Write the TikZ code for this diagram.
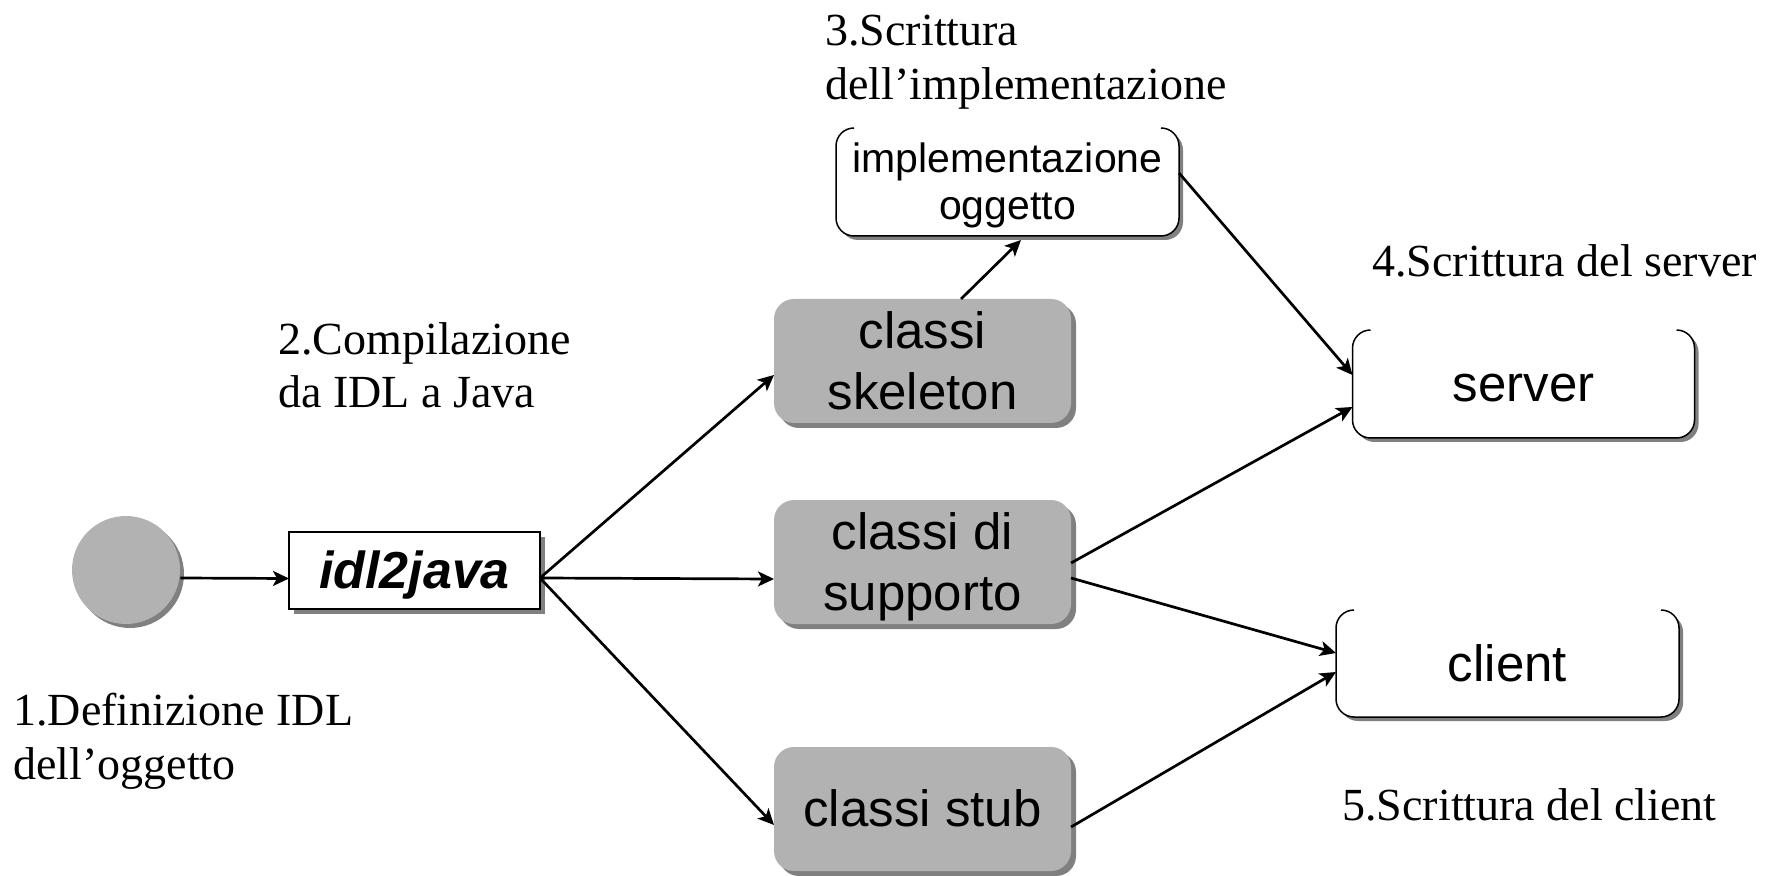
\documentclass[tikz,border=0pt]{standalone}
\usepackage{fontspec}
\setmainfont{Liberation Serif}
\setsansfont{Liberation Sans}
\usetikzlibrary{arrows.meta,shadows,calc}
\definecolor{boxgray}{HTML}{B2B2B2}
\definecolor{shadowgray}{HTML}{808080}
\newcommand\ppstrut{\rule[-0.212em]{0pt}{1.117em}}
\newcommand\opentopframe[1]{%
  \draw[line width=0.75pt] ([xshift=9pt]#1.north west) arc[start angle=90,end angle=180,radius=9pt]
    -- ([yshift=9pt]#1.south west) arc[start angle=180,end angle=270,radius=9pt]
    -- ([xshift=-9pt]#1.south east) arc[start angle=270,end angle=360,radius=9pt]
    -- ([yshift=-9pt]#1.north east) arc[start angle=0,end angle=90,radius=9pt];}
\begin{document}
\begin{tikzpicture}[x=0.5pt,y=-0.5pt,
  lab/.style={inner sep=0pt,anchor=north west,align=left,font=\fontsize{23}{26.7}\selectfont},
  graybox/.style={rectangle,rounded corners=10pt,fill=boxgray,minimum width=148.5pt,minimum height=62pt,
    inner sep=0pt,outer sep=0pt,align=center,font=\sffamily\fontsize{25.5}{30.5}\selectfont,
    drop shadow={shadow xshift=2.5pt,shadow yshift=-2.5pt,fill=shadowgray,opacity=1}},
  whitebox/.style={rectangle,rounded corners=9pt,fill=white,minimum width=171.5pt,minimum height=54pt,
    inner sep=0pt,outer sep=0pt,align=center,font=\sffamily\fontsize{25.5}{30.5}\selectfont,
    drop shadow={shadow xshift=2pt,shadow yshift=-2pt,fill=shadowgray,opacity=1}},
  arr/.style={line width=1.35pt,-{Stealth[length=8pt,width=7.5pt,inset=2pt]}},
]
\useasboundingbox (0,0) rectangle (1781,876);

% start circle and compiler
\node[circle,fill=boxgray,minimum size=54pt,inner sep=0pt,
  drop shadow={shadow xshift=2pt,shadow yshift=-2pt,fill=shadowgray,opacity=1}] (circ) at (126,570) {};
\node[rectangle,draw=black,line width=0.6pt,fill=white,minimum width=125.5pt,minimum height=38.5pt,
  inner sep=0pt,outer sep=0pt,font=\sffamily\bfseries\itshape\fontsize{26}{30}\selectfont,
  drop shadow={shadow xshift=2.5pt,shadow yshift=-2.5pt,fill=shadowgray,opacity=1}] (idl) at (414.5,570.5) {\ppstrut idl2java};

% generated classes
\node[graybox] (skel) at (922.5,361) {\ppstrut classi\\\ppstrut skeleton};
\node[graybox] (supp) at (922.5,562) {\ppstrut classi di\\\ppstrut supporto};
\node[graybox] (stub) at (922.5,809) {\ppstrut classi stub};

% white boxes
\node[whitebox,font=\sffamily\fontsize{20.5}{23.5}\selectfont] (impl) at (1007.5,182) {\ppstrut implementazione\\\ppstrut oggetto};
\node[whitebox,minimum width=171pt] (server) at (1523.5,384) {\ppstrut server};
\node[whitebox,minimum height=53.5pt] (client) at (1507.5,663.5) {\ppstrut client};
\opentopframe{impl}
\opentopframe{server}
\opentopframe{client}

% labels
\node[lab] (l3) at (825,15) {3.Scrittura\\dell’implementazione};
\node[lab] (l4) at (1372,244) {4.Scrittura del server};
\node[lab] (l2) at (278,322) {2.Compilazione\\da IDL a Java};
\node[lab] (l1) at (13,693) {1.Definizione IDL\\dell’oggetto};
\node[lab] (l5) at (1342,788) {5.Scrittura del client};

% connectors
\draw[arr] ([yshift=-4pt]circ.east) -- ([yshift=-4pt]idl.west);
\coordinate (o) at ([yshift=-3.75pt]idl.east);
\draw[arr] (o) -- ([yshift=-7pt]skel.west);
\draw[arr] (o) -- ([yshift=-8.5pt]supp.west);
\draw[arr] (o) -- ([yshift=-8pt]stub.west);
\draw[arr] ([xshift=19.25pt]skel.north) -- ([xshift=6.75pt,yshift=-2pt]impl.south);
\draw[arr] ([yshift=4.5pt]impl.east) -- ([yshift=4.5pt]server.west);
\draw[arr] ([yshift=-0.5pt]supp.east) -- ([yshift=-11.5pt]server.west);
\draw[arr] ([yshift=-8pt]supp.east) -- ([yshift=5.25pt]client.west);
\draw[arr] ([yshift=-9pt]stub.east) -- ([yshift=-4.25pt]client.west);
\end{tikzpicture}
\end{document}
